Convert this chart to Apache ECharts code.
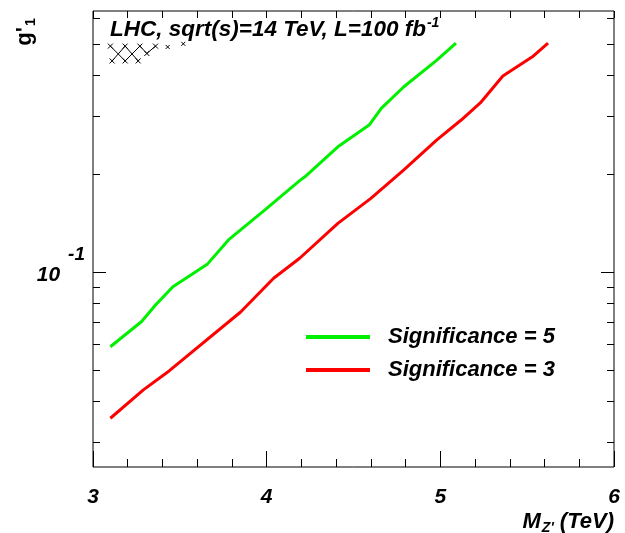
<!DOCTYPE html>
<html>
<head>
<meta charset="utf-8">
<script src="https://cdn.jsdelivr.net/npm/echarts@6/dist/echarts.min.js"></script>
<style>
  html, body { margin: 0; padding: 0; background: #fff; }
  #chart { width: 625px; height: 533px; }
</style>
</head>
<body>
<div id="chart"></div>
<script>
// Z' mass (TeV) and coupling g'1
const massSig5 = [3.10, 3.28, 3.36, 3.46, 3.66, 3.78, 3.99, 4.19, 4.22, 4.41, 4.59, 4.66, 4.79, 4.98, 5.09];
const gSig5 = [0.0590, 0.0705, 0.0792, 0.0901, 0.1059, 0.1254, 0.155, 0.1906, 0.1959, 0.2421, 0.2823, 0.3177, 0.3700, 0.4467, 0.5032];
const massSig3 = [3.10, 3.29, 3.44, 3.85, 4.04, 4.19, 4.41, 4.60, 4.79, 4.98, 5.12, 5.23, 5.36, 5.53, 5.62];
const gSig3 = [0.0356, 0.0435, 0.0498, 0.0754, 0.0957, 0.1102, 0.1410, 0.1682, 0.2056, 0.2541, 0.2925, 0.330, 0.3990, 0.4570, 0.5038];
// small hatched contour at top left
const hatchAM = [3.10, 3.185, 3.27, 3.31, 3.36];
const hatchAG = [0.493, 0.444, 0.493, 0.468, 0.493];
const hatchBM = [3.11, 3.185, 3.26];
const hatchBG = [0.444, 0.493, 0.444];
const hatchDotM = [3.43, 3.52];
const hatchDotG = [0.490, 0.501];

const xMajor = [3, 4, 5, 6];
const yMajor = [0.1];
const yMinor = [0.03, 0.04, 0.05, 0.06, 0.07, 0.08, 0.09, 0.2, 0.3, 0.4, 0.5, 0.6];
const yMin = 0.02523, yMax = 0.6317;

const names = ['Significance = 5', 'Significance = 3'];
const FONT = 'Liberation Sans, Arial, sans-serif';

const zip = (a, b) => a.map((v, i) => [v, b[i]]);

const chart = echarts.init(document.getElementById('chart'));

function xAx(pos, interval, len, labels) {
  return {
    type: 'value', min: 3, max: 6, interval: interval, position: pos,
    axisLine: { show: false },
    splitLine: { show: false },
    axisTick: { show: true, inside: true, length: len, lineStyle: { color: '#000', width: 1 } },
    axisLabel: labels ? {
      show: true, margin: 20, color: '#000', fontFamily: FONT, fontSize: 21,
      fontWeight: 'bold', fontStyle: 'italic', showMinLabel: true, showMaxLabel: true,
      customValues: xMajor
    } : { show: false }
  };
}

function yAx(pos, ticks, len, labels) {
  return {
    type: 'log', logBase: 10, min: yMin, max: yMax, position: pos,
    axisLine: { show: false },
    splitLine: { show: false },
    minorTick: { show: false },
    axisTick: { show: true, inside: true, length: len, customValues: ticks, lineStyle: { color: '#000', width: 1 } },
    axisLabel: labels ? {
      show: true, margin: 8, customValues: yMajor,
      formatter: () => '{a|10}{b|-1}',
      rich: {
        a: { fontFamily: FONT, fontSize: 21, fontWeight: 'bold', fontStyle: 'italic', color: '#000',
             lineHeight: 22, padding: [20, 8, 14, 0] },
        b: { fontFamily: FONT, fontSize: 19, fontWeight: 'bold', fontStyle: 'italic', color: '#000',
             lineHeight: 22, padding: [0, 0, 34, 0] }
      }
    } : { show: false }
  };
}

const lineSeries = (name, m, g, color) => ({
  name: name, type: 'line', xAxisIndex: 0, yAxisIndex: 0,
  data: zip(m, g), symbol: 'none', smooth: false,
  lineStyle: { color: color, width: 3 }, itemStyle: { color: color },
  silent: true, z: 3
});

const crossPath = 'path://M0,0L10,10M10,0L0,10';
const hatchSeries = (m, g, size, showLine) => ({
  type: 'line', xAxisIndex: 0, yAxisIndex: 0, data: zip(m, g),
  symbol: crossPath, symbolSize: size, showSymbol: true,
  lineStyle: { color: '#000', width: showLine ? 1 : 0 },
  itemStyle: { color: 'none', borderColor: '#000', borderWidth: 1 },
  silent: true, z: 2
});

chart.setOption({
  animation: false,
  backgroundColor: '#fff',
  grid: { left: 93, right: 11, top: 11, bottom: 66, show: true, borderColor: '#000', borderWidth: 1, backgroundColor: 'transparent' },
  xAxis: [
    xAx('bottom', 1, 16, true),
    xAx('bottom', 0.2, 8, false),
    xAx('top', 0.2, 7, false)
  ],
  yAxis: [
    yAx('left', yMajor, 13, true),
    yAx('left', yMinor, 7, false),
    yAx('right', yMajor, 13, false),
    yAx('right', yMinor, 7, false)
  ],
  legend: {
    data: names, orient: 'vertical', left: 306, top: 326, padding: 0,
    itemWidth: 64, itemHeight: 4, itemGap: 11, icon: 'rect',
    selectedMode: false,
    textStyle: { fontFamily: FONT, fontSize: 22, fontWeight: 'bold', fontStyle: 'italic', color: '#000', lineHeight: 22, padding: [0, 0, 0, 13] }
  },
  graphic: [
    {
      type: 'text', left: 110, top: 16, silent: true,
      style: {
        text: '{a|LHC, sqrt(s)=14 TeV, L=100 fb}{b|-1}',
        rich: {
          a: { fontFamily: FONT, fontSize: 22.5, fontWeight: 'bold', fontStyle: 'italic', fill: '#000', lineHeight: 22, verticalAlign: 'bottom' },
          b: { fontFamily: FONT, fontSize: 14, fontWeight: 'bold', fontStyle: 'italic', fill: '#000', lineHeight: 14, padding: [0, 0, 14, 1] }
        }
      }
    },
    {
      type: 'text', x: 25, y: 32, rotation: Math.PI / 2, silent: true,
      style: {
        text: "{a|g'}{b|1}", align: 'center', verticalAlign: 'middle',
        rich: {
          a: { fontFamily: FONT, fontSize: 22, fontWeight: 'bold', fill: '#000', lineHeight: 22, verticalAlign: 'top' },
          b: { fontFamily: FONT, fontSize: 14, fontWeight: 'bold', fill: '#000', lineHeight: 14, padding: [12, 0, 0, 1] }
        }
      }
    },
    {
      type: 'text', right: 11, top: 508, silent: true,
      style: {
        text: "{a|M}{b|Z'}{a| (TeV)}",
        rich: {
          a: { fontFamily: FONT, fontSize: 22, fontWeight: 'bold', fontStyle: 'italic', fill: '#000', lineHeight: 22, verticalAlign: 'top' },
          b: { fontFamily: FONT, fontSize: 14, fontWeight: 'bold', fontStyle: 'italic', fill: '#000', lineHeight: 14, padding: [13, 0, 0, 1] }
        }
      }
    }
  ],
  series: [
    lineSeries(names[0], massSig5, gSig5, '#00f000'),
    lineSeries(names[1], massSig3, gSig3, '#ff0000'),
    hatchSeries(hatchAM, hatchAG, 5, true),
    hatchSeries(hatchBM, hatchBG, 5, true),
    hatchSeries(hatchDotM, hatchDotG, 4, false)
  ]
});
</script>
</body>
</html>
